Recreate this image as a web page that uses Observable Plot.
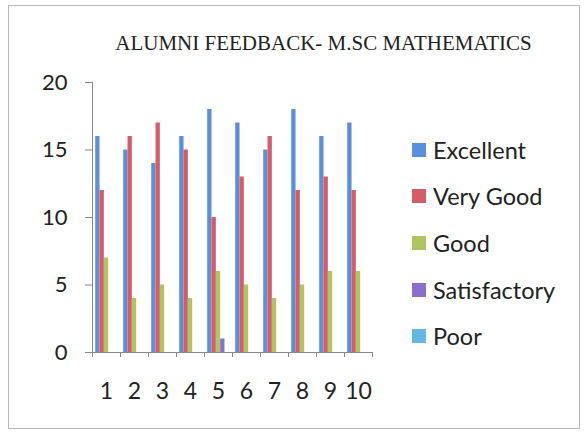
<!DOCTYPE html>
<html>
<head>
<meta charset="utf-8">
<script src="https://cdn.jsdelivr.net/npm/d3@7"></script>
<script src="https://cdn.jsdelivr.net/npm/@observablehq/plot@0.6"></script>
<style>
  html, body { margin: 0; padding: 0; background: #fff; }
  #wrap { position: relative; width: 587px; height: 432px; background: #fff; overflow: hidden; }
  #frame { position: absolute; left: 8px; top: 5px; width: 572px; height: 424px; border: 1px solid #b8b8b8; box-sizing: border-box; }
  #title { position: absolute; left: 0; width: 647px; top: 31px; text-align: center; font-family: "Liberation Serif", serif; font-size: 21px; color: #222; white-space: nowrap; }
  #legend { position: absolute; left: 412px; top: 126.5px; font-family: Lato, "Open Sans", sans-serif; font-size: 23.5px; color: #222; }
  .item { display: flex; align-items: center; height: 46.6px; }
  .sw { width: 14px; height: 14px; margin-right: 7px; }
  #chart { position: absolute; left: 0; top: 0; }
</style>
</head>
<body>
<div id="wrap">
  <div id="frame"></div>
  <div id="title">ALUMNI FEEDBACK- M.SC MATHEMATICS</div>
  <div id="chart"></div>
  <div id="legend"></div>
</div>
<script>
const groups = [1, 2, 3, 4, 5, 6, 7, 8, 9, 10];
const seriesNames = ["Excellent", "Very Good", "Good", "Satisfactory", "Poor"];
const excellent = [16, 15, 14, 16, 18, 17, 15, 18, 16, 17];
const veryGood = [12, 16, 17, 15, 10, 13, 16, 12, 13, 12];
const good = [7, 4, 5, 4, 6, 5, 4, 5, 6, 6];
const satisfactory = [0, 0, 0, 0, 1, 0, 0, 0, 0, 0];
const poor = [0, 0, 0, 0, 0, 0, 0, 0, 0, 0];
const yTicks = [0, 5, 10, 15, 20];
const colors = ["#5a8fdc", "#d45d68", "#aec561", "#8a6fcc", "#67b6e6"];

const seriesValues = [excellent, veryGood, good, satisfactory, poor];
const rows = [];
groups.forEach((g, gi) => {
  seriesValues.forEach((vals, k) => {
    rows.push({group: g, series: seriesNames[k], k, value: vals[gi]});
  });
});

const pad = 0.115, bw = 0.154;
const boundaries = groups.map(g => g - 0.5).concat([groups[groups.length - 1] + 0.5]);

const chart = Plot.plot({
  width: 587,
  height: 432,
  marginLeft: 92,
  marginRight: 215,
  marginTop: 82,
  marginBottom: 80,
  style: {background: "transparent", overflow: "visible"},
  x: {type: "linear", domain: [0.5, 10.5]},
  y: {domain: [0, 20]},
  color: {domain: seriesNames, range: colors},
  marks: [
    Plot.rectY(rows, {
      x1: d => d.group - 0.5 + pad + d.k * bw,
      x2: d => d.group - 0.5 + pad + (d.k + 1) * bw,
      y1: 0,
      y2: "value",
      fill: "series"
    }),
    Plot.ruleX([0.5], {stroke: "#888", strokeWidth: 1}),
    Plot.ruleY([0], {stroke: "#888", strokeWidth: 1}),
    Plot.axisY({ticks: yTicks, tickSize: 7, tickPadding: 18, fontSize: 22, fontFamily: "Lato, sans-serif", fill: "#222", stroke: "#888", label: null}),
    Plot.axisX({ticks: boundaries, tickSize: 5, tickFormat: () => "", stroke: "#888", label: null}),
    Plot.axisX({ticks: groups, tickSize: 0, tickPadding: 30, fontSize: 23, fontFamily: "Lato, sans-serif", fill: "#222", label: null})
  ]
});
document.getElementById("chart").appendChild(chart);

const legend = document.getElementById("legend");
seriesNames.forEach((name, i) => {
  const item = document.createElement("div");
  item.className = "item";
  const sw = document.createElement("span");
  sw.className = "sw";
  sw.style.background = colors[i];
  const label = document.createElement("span");
  label.textContent = name;
  item.appendChild(sw);
  item.appendChild(label);
  legend.appendChild(item);
});
</script>
</body>
</html>
